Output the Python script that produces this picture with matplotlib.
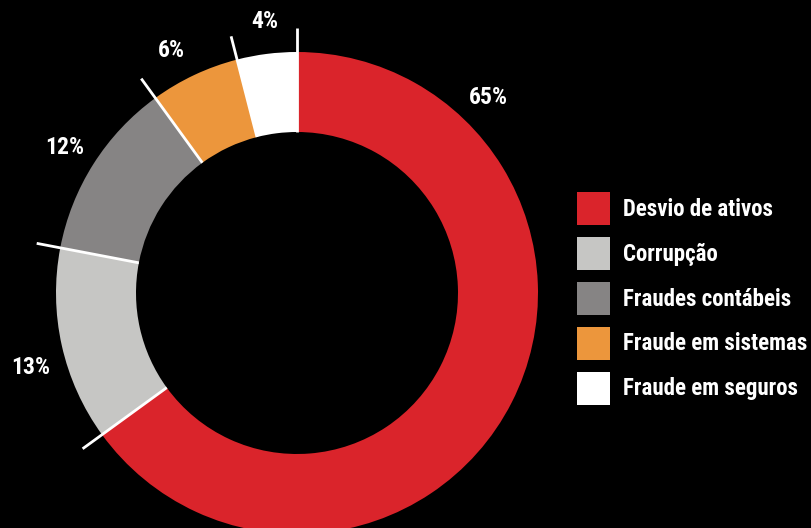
import numpy as np
import matplotlib.pyplot as plt
from matplotlib.patches import Rectangle

# data
categories = ['Desvio de ativos', 'Corrupção', 'Fraudes contábeis',
              'Fraude em sistemas', 'Fraude em seguros']
values = [65, 13, 12, 6, 4]
labels = ['65%', '13%', '12%', '6%', '4%']
colors = ['#DA242B', '#C6C6C4', '#868484', '#EC963C', '#FFFFFF']

# where each percentage label sits (degrees, counter-clockwise from east)
label_angles = [46, 195, 147.5, 117, 96.7]

font = ['Roboto Condensed', 'DejaVu Sans']

fig = plt.figure(figsize=(8.11, 5.28), dpi=100, facecolor='black')
ax = fig.add_axes([0, 0, 1, 1])
ax.set_facecolor('black')

# pixel-like layout
cx, cy = 297, 235
R, r_in = 241, 161

ax.pie(values, colors=colors, startangle=90, counterclock=False,
       radius=R, center=(cx, cy),
       wedgeprops=dict(width=R - r_in, linewidth=0))

# white separator lines at slice boundaries
cum = np.cumsum([0] + values[:-1])
for c in cum:
    ang = np.deg2rad(90 - c / sum(values) * 360)
    ax.plot([cx + r_in * np.cos(ang), cx + 265 * np.cos(ang)],
            [cy + r_in * np.sin(ang), cy + 265 * np.sin(ang)],
            color='white', lw=2, solid_capstyle='butt', zorder=5)

# percentage labels
for lab, m in zip(labels, label_angles):
    a = np.deg2rad(m)
    ax.text(cx + 276 * np.cos(a), cy + 276 * np.sin(a) - 3, lab,
            color='white', fontsize=17, fontweight='bold', family=font,
            ha='center', va='center')

# legend
for i, (cat, col) in enumerate(zip(categories, colors)):
    y = 528 - 192 - i * 45
    ax.add_patch(Rectangle((577, y - 33), 33, 33, color=col, lw=0))
    ax.text(623, y - 17, cat, color='white', fontsize=16.5, fontweight='bold',
            family=font, ha='left', va='center')

ax.set_xlim(0, 811)
ax.set_ylim(0, 528)
ax.set_aspect('equal')
ax.axis('off')

plt.savefig('out.png', dpi=100, facecolor='black')
